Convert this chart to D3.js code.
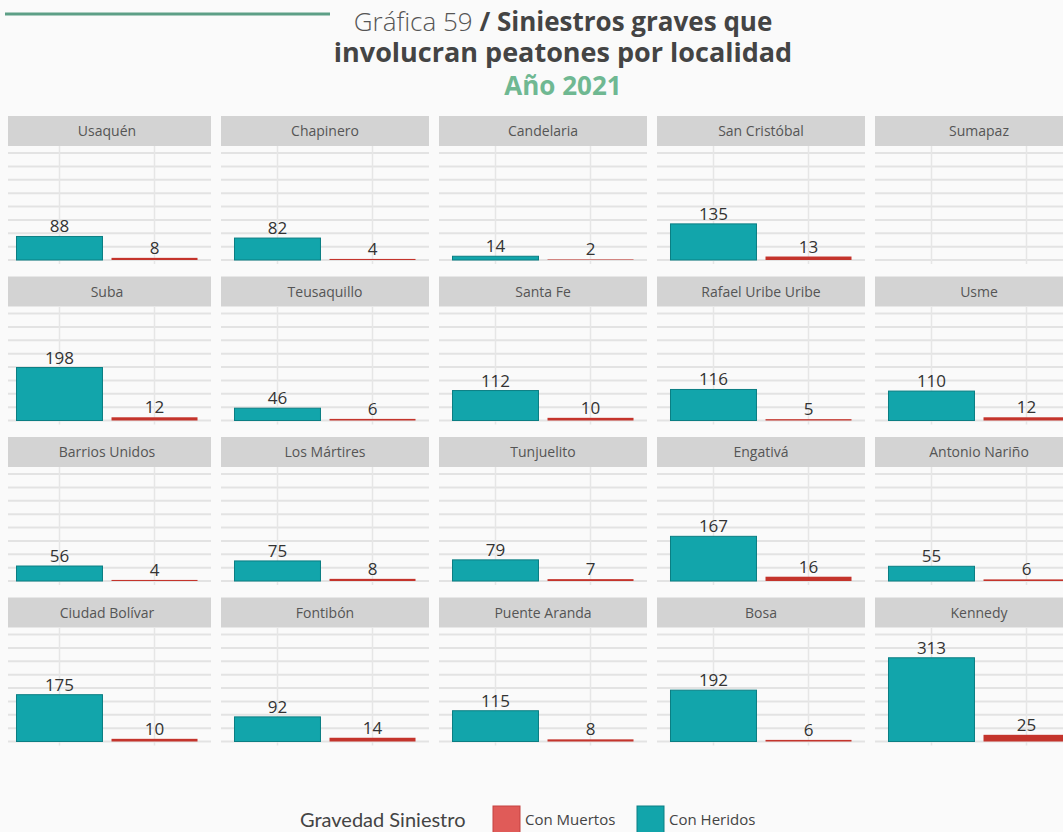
<!DOCTYPE html>
<html>
<head>
<meta charset="utf-8">
<script src="https://cdn.jsdelivr.net/npm/d3@7"></script>
<style>
  body { margin: 0; background: #fafafa; }
  text { font-family: "Open Sans", sans-serif; }
</style>
</head>
<body>
<div id="chart"></div>
<script>
// localidades, in panel order (row by row)
var localidades = ["Usaquén", "Chapinero", "Candelaria", "San Cristóbal", "Sumapaz",
                   "Suba", "Teusaquillo", "Santa Fe", "Rafael Uribe Uribe", "Usme",
                   "Barrios Unidos", "Los Mártires", "Tunjuelito", "Engativá", "Antonio Nariño",
                   "Ciudad Bolívar", "Fontibón", "Puente Aranda", "Bosa", "Kennedy"];
var conHeridos = [88, 82, 14, 135, null,
                  198, 46, 112, 116, 110,
                  56, 75, 79, 167, 55,
                  175, 92, 115, 192, 313];
var conMuertos = [8, 4, 2, 13, null,
                  12, 6, 10, 5, 12,
                  4, 8, 7, 16, 6,
                  10, 14, 8, 6, 25];
var series = ["Con Heridos", "Con Muertos"];
var yTicks = [0, 50, 100, 150, 200, 250, 300, 350, 400];

var width = 1063, height = 832;
var colors = { "Con Heridos": "#12a5ab", "Con Muertos": "#c4342c" };
var strokes = { "Con Heridos": "#0b7e83", "Con Muertos": "#a82820" };

var svg = d3.select("#chart").append("svg")
    .attr("width", width).attr("height", height)
    .style("display", "block");

svg.append("rect").attr("width", width).attr("height", height).attr("fill", "#fafafa");

// top green rule
svg.append("line")
    .attr("x1", 5).attr("x2", 330).attr("y1", 14).attr("y2", 14)
    .attr("stroke", "#5d9f86").attr("stroke-width", 3);

// title
var title = svg.append("g").attr("text-anchor", "middle").style("font-family", "Lato, sans-serif");
var t1 = title.append("text").attr("x", 563).attr("y", 31).attr("font-size", 26).attr("fill", "#555");
t1.append("tspan").attr("font-weight", 300).text("Gráfica 59 ");
t1.append("tspan").attr("font-weight", 700).attr("fill", "#444").text("/ Siniestros graves que");
title.append("text").attr("x", 563).attr("y", 62).attr("font-size", 27)
    .attr("font-weight", 700).attr("fill", "#444").text("involucran peatones por localidad");
title.append("text").attr("x", 563).attr("y", 95).attr("font-size", 26)
    .attr("font-weight", 700).attr("fill", "#6fb892").text("Año 2021");

svg.append("clipPath").attr("id", "clip")
  .append("rect").attr("x", 8).attr("y", 0).attr("width", width - 8).attr("height", height);

var grid = svg.append("g").attr("clip-path", "url(#clip)");

var panelW = 208, pitchX = 218, pitchY = 160.5, headH = 30;

var x = d3.scaleBand().domain(series).range([0, panelW])
    .paddingInner(0.095).paddingOuter(0.142);

localidades.forEach(function(name, i) {
  var col = i % 5, row = Math.floor(i / 5);
  var px = 3 + col * pitchX, py = 116 + row * pitchY;
  var base = py + 144;
  var y = d3.scaleLinear().domain([0, 400]).range([base, base - 107]);

  var g = grid.append("g").attr("transform", "translate(" + px + ",0)");

  g.append("rect").attr("x", 0).attr("y", py).attr("width", panelW).attr("height", headH)
      .attr("fill", "#d3d3d3");
  g.append("text").attr("x", panelW / 2).attr("y", py + 20)
      .attr("text-anchor", "middle").attr("font-size", 14).attr("fill", "#555")
      .text(name);

  g.selectAll(".hg").data(yTicks).enter().append("line")
      .attr("x1", 0).attr("x2", panelW)
      .attr("y1", function(d) { return y(d); }).attr("y2", function(d) { return y(d); })
      .attr("stroke", "#e3e3e3").attr("stroke-width", 2);

  g.selectAll(".vg").data(series).enter().append("line")
      .attr("x1", function(d) { return x(d) + x.bandwidth() / 2; })
      .attr("x2", function(d) { return x(d) + x.bandwidth() / 2; })
      .attr("y1", py + headH).attr("y2", base + 4)
      .attr("stroke", "#e6e6e6").attr("stroke-width", 1.5);

  var vals = [
    { s: "Con Heridos", v: conHeridos[i] },
    { s: "Con Muertos", v: conMuertos[i] }
  ].filter(function(d) { return d.v != null; });

  g.selectAll(".bar").data(vals).enter().append("rect")
      .attr("x", function(d) { return x(d.s); })
      .attr("width", x.bandwidth())
      .attr("y", function(d) { return y(d.v); })
      .attr("height", function(d) { return base - y(d.v); })
      .attr("fill", function(d) { return colors[d.s]; })
      .attr("stroke", function(d) { return d.s == "Con Heridos" ? strokes[d.s] : "none"; })
      .attr("stroke-width", 1);

  g.selectAll(".lbl").data(vals).enter().append("text")
      .attr("x", function(d) { return x(d.s) + x.bandwidth() / 2; })
      .attr("y", function(d) { return y(d.v) - 4; })
      .attr("text-anchor", "middle").attr("font-size", 17).attr("fill", "#333")
      .text(function(d) { return d.v; });
});

// legend
var leg = svg.append("g");
leg.append("text").attr("x", 300).attr("y", 827).attr("font-size", 20)
    .attr("fill", "#444").style("font-family", "Lato, sans-serif").text("Gravedad Siniestro");
var legItems = [{ s: "Con Muertos", x: 493, fill: "#e05b58", stroke: "#c44341" },
                { s: "Con Heridos", x: 637, fill: "#12a5ab", stroke: "#0b7e83" }];
legItems.forEach(function(d) {
  leg.append("rect").attr("x", d.x).attr("y", 806).attr("width", 27).attr("height", 28)
      .attr("fill", d.fill).attr("stroke", d.stroke);
  leg.append("text").attr("x", d.x + 32).attr("y", 825).attr("font-size", 15)
      .attr("fill", "#444").text(d.s);
});
</script>
</body>
</html>
